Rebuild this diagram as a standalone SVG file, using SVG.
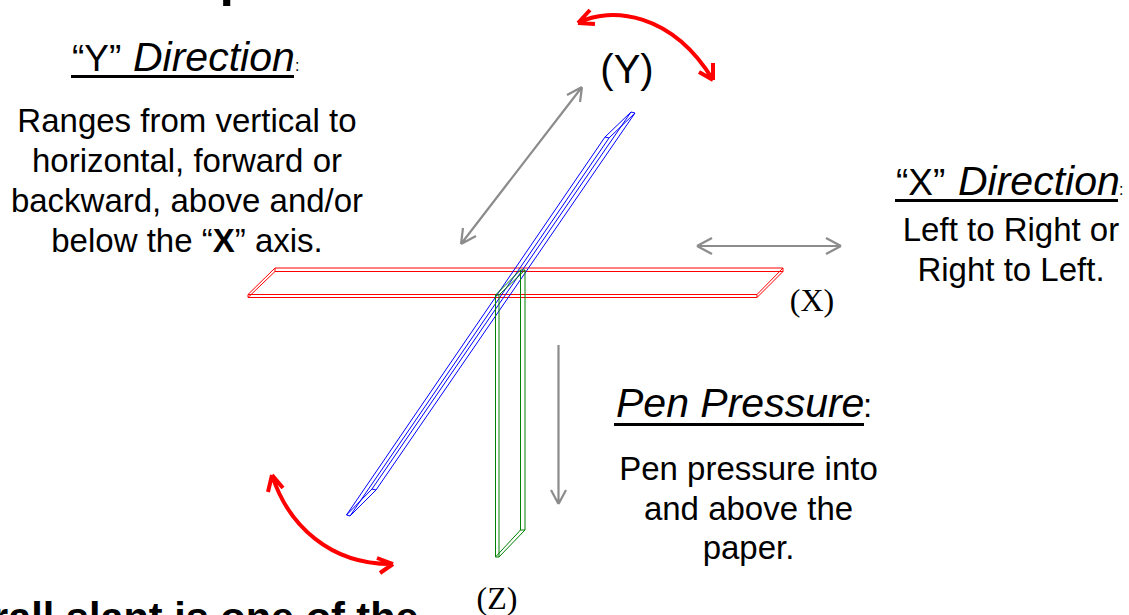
<svg xmlns="http://www.w3.org/2000/svg" width="1129" height="615" viewBox="0 0 1129 615">
<style>
text{font-family:"Liberation Sans",Arial,sans-serif;fill:#000}
.body{font-size:33px;text-anchor:middle}
.dir{font-size:41px;font-style:italic}
.q{font-size:37px}
.col{font-size:16px}
.ser{font-family:"Liberation Serif","Times New Roman",serif;font-size:32px;text-anchor:middle}
.th{fill:none;stroke-width:1}
.r{stroke:#f00}.b{stroke:#00f}.g{stroke:#008000}
.ga{fill:none;stroke:#8c8c8c;stroke-width:2.2}
.ra{fill:none;stroke:#f00;stroke-width:4}
.ul{stroke:#000;stroke-width:3}
</style>
<rect width="1129" height="615" fill="#fff"/>
<g id="x-plane">
<path class="th r" d="M248 294.500H757L783 268H275ZM248 297.500H757L783 271.500H275ZM248 294.500V297.500M757 294.500V297.500M783 268V271.500M275 268V271.500"/>
</g>
<g id="y-plane">
<path class="th b" d="M346.500 515L372 489L631 112L605 137ZM350 516L376 490L635 113L609 138ZM346.500 515L350 516M372 489L376 490M631 112L635 113M605 137L609 138"/>
</g>
<g id="z-plane">
<path class="th g" d="M495.500 295L520.500 270V530L495.500 557ZM499 295L525 270V530L499 557ZM495.500 295H499M520.500 270H525M520.500 530H525M495.500 557H499"/>
</g>
<g id="connectors">
<path class="ga" d="M461 244L582 87M582 87L567 95M582 87L580 102M461 244L463 228M461 244L476 236"/>
<path class="ga" d="M697 246H841M697 246L712 238M697 246L712 254M841 246L826 238M841 246L826 254"/>
<path class="ga" d="M558.500 345V504M558.500 504L551 490M558.500 504L566 490"/>
<path class="ra" d="M578 23C610 6 672 12 713 80M578 23L590 10M578 23L595 24M713 80L713 63M713 80L699 72"/>
<path class="ra" d="M272 475C288 525 330 565 393 564M272 475L268 492M272 475L283 488M393 564L377 558M393 564L380 573"/>
</g>
<g id="label-y-heading"><text y="71"><tspan x="72" class="q">“Y”</tspan><tspan x="133" class="dir">Direction</tspan><tspan x="295" class="col">:</tspan></text><path class="ul" d="M71 76.500H294"/></g>
<g id="label-y-body"><text x="187" y="132" class="body">Ranges from vertical to</text><text x="187" y="172" class="body">horizontal, forward or</text><text x="187" y="212" class="body">backward, above and/or</text><text x="187" y="252" class="body">below the “<tspan font-weight="bold">X</tspan>” axis.</text></g>
<g id="label-x-heading"><text y="195"><tspan x="896" class="q">“X”</tspan><tspan x="958" class="dir">Direction</tspan><tspan x="1119" class="col">:</tspan></text><path class="ul" d="M895 200.500H1118"/></g>
<g id="label-x-body"><text x="1011" y="241" class="body">Left to Right or</text><text x="1011" y="281" class="body">Right to Left.</text></g>
<g id="label-pressure"><text y="417"><tspan x="616" class="dir">Pen Pressure</tspan><tspan x="863" font-size="33">:</tspan></text><path class="ul" d="M614 424.500H864"/></g>
<g id="label-pressure-body"><text x="748.500" y="480" class="body">Pen pressure into</text><text x="748.500" y="519.500" class="body">and above the</text><text x="748.500" y="559" class="body">paper.</text></g>
<g id="axis-labels"><text x="627" y="83" font-size="40" text-anchor="middle">(Y)</text><text x="812" y="311" class="ser">(X)</text><text x="497" y="609" class="ser">(Z)</text></g>
<text x="219.500" y="-5" font-size="52" font-weight="bold">p</text>
<text x="-8" y="630.500" font-size="41.500" font-weight="bold">rall slant is one of the</text>
</svg>
